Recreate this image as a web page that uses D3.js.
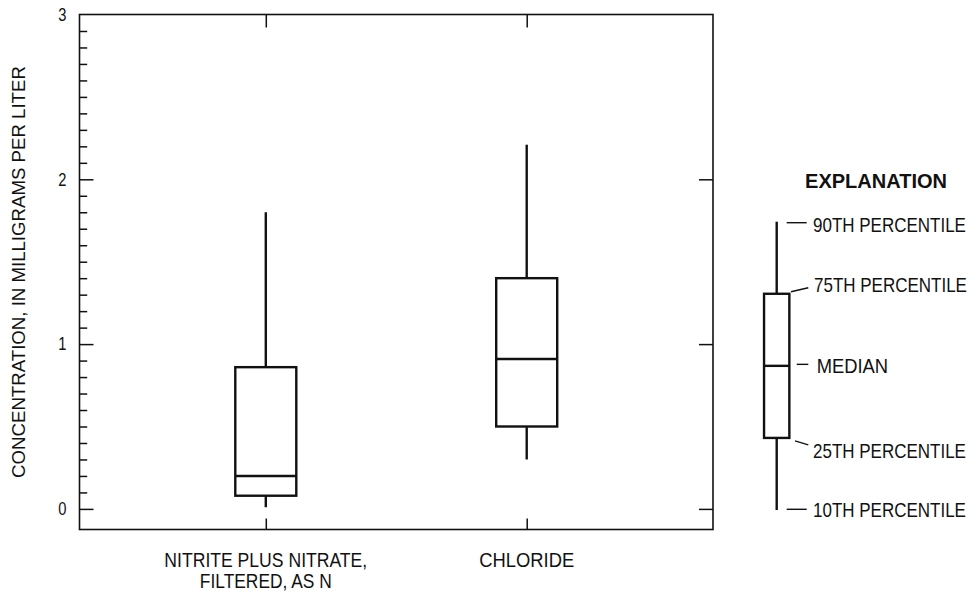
<!DOCTYPE html>
<html><head><meta charset="utf-8">
<script src="https://cdn.jsdelivr.net/npm/d3@7"></script>
<style>
body{margin:0;background:#fff;}
svg{display:block;}
text{font-family:"Liberation Sans",Arial,sans-serif;fill:#111;}
</style></head><body><svg id="c" width="971" height="594"></svg>
<script>
// ---- data ----
const categories = ["NITRITE PLUS NITRATE, FILTERED, AS N", "CHLORIDE"];
const categoryLabelLines = [["NITRITE PLUS NITRATE,", "FILTERED, AS N"], ["CHLORIDE"]];
const p10 = [0.01, 0.30];
const p25 = [0.08, 0.50];
const p50 = [0.20, 0.91];
const p75 = [0.86, 1.40];
const p90 = [1.80, 2.21];
const yMajorTicks = [0, 1, 2, 3];
const yTickLabels = ["0", "1", "2", "3"];
const yTitle = "CONCENTRATION, IN MILLIGRAMS PER LITER";
const legendTitle = "EXPLANATION";
const legendKeys = ["p10", "p25", "p50", "p75", "p90"];
const legendLabels = ["10TH PERCENTILE", "25TH PERCENTILE", "MEDIAN", "75TH PERCENTILE", "90TH PERCENTILE"];
const legendValues = [0, 0.25, 0.5, 0.75, 1];

// ---- layout ----
const L = 79.5, R = 713, T = 14.5, B = 529.5;
const svg = d3.select("#c");
const y = d3.scaleLinear().domain([-0.125, 3]).range([B, T]);
const x = d3.scalePoint().domain(categories).range([L, R]).padding(0.714);
const ink = "#111";
const narrow = 0.81; // condensed look

// condensed text: horizontal scale so that the drawn width is the wanted one
function ctext(px, py, str, fs, anchor, width, weight, rot) {
  const t = svg.append("text").attr("text-anchor", anchor).attr("font-size", fs)
    .attr("font-weight", weight || "normal").text(str);
  const n = t.node().getComputedTextLength();
  const k = width ? width / n : narrow;
  t.attr("transform", `translate(${px},${py})${rot ? " rotate(" + rot + ")" : ""} scale(${k},1)`);
  return t;
}

// frame
svg.append("rect").attr("x", L).attr("y", T).attr("width", R - L).attr("height", B - T)
  .attr("fill", "none").attr("stroke", ink).attr("stroke-width", 1.6);

function clean(g) { g.select(".domain").remove(); g.selectAll(".tick line").attr("stroke", ink).attr("stroke-width", 1.5); }

const minor = d3.range(1, 30).filter(i => i % 10 !== 0).map(i => i / 10);
svg.append("g").attr("transform", `translate(${L},0)`)
  .call(d3.axisRight(y).tickValues(minor).tickSize(7.7).tickFormat("")).call(clean);
svg.append("g").attr("transform", `translate(${L},0)`)
  .call(d3.axisRight(y).tickValues(yMajorTicks.slice(0, 3)).tickSize(14).tickFormat("")).call(clean);
const yl = svg.append("g").attr("transform", `translate(${L},0)`)
  .call(d3.axisLeft(y).tickValues(yMajorTicks).tickSize(0).tickPadding(13).tickFormat((d, i) => yTickLabels[i]));
yl.select(".domain").remove();
yl.selectAll("text").attr("font-size", 18).attr("fill", ink).attr("font-family", null)
  .attr("textLength", 8.2).attr("lengthAdjust", "spacingAndGlyphs");
svg.append("g").attr("transform", `translate(${R},0)`)
  .call(d3.axisLeft(y).tickValues(yMajorTicks.slice(0, 3)).tickSize(14).tickFormat("")).call(clean);
svg.append("g").attr("transform", `translate(0,${T})`)
  .call(d3.axisBottom(x).tickSize(13).tickFormat("")).call(clean);
svg.append("g").attr("transform", `translate(0,${B})`)
  .call(d3.axisTop(x).tickSize(11).tickFormat("")).call(clean);

// category labels
const catLineWidths = [[203, 132], [95]];
categories.forEach((c, i) => {
  categoryLabelLines[i].forEach((ln, j) => ctext(x(c), 566.5 + j * 21.5, ln, 21, "middle", catLineWidths[i][j]));
});

// y title
ctext(25, 272, yTitle, 18.5, "middle", 412, null, -90);

// boxes
const bw = 61, sw = 2.4;
const data = categories.map((c, i) => ({ c, p10: p10[i], p25: p25[i], p50: p50[i], p75: p75[i], p90: p90[i] }));
const bg = svg.append("g").attr("stroke", ink).attr("stroke-width", sw).attr("fill", "none");
data.forEach(d => {
  const cx = x(d.c);
  bg.append("line").attr("x1", cx).attr("x2", cx).attr("y1", y(d.p90)).attr("y2", y(d.p75));
  bg.append("line").attr("x1", cx).attr("x2", cx).attr("y1", y(d.p25)).attr("y2", y(d.p10));
  bg.append("rect").attr("x", cx - bw / 2).attr("width", bw).attr("y", y(d.p75)).attr("height", y(d.p25) - y(d.p75)).attr("fill", "#fff");
  bg.append("line").attr("x1", cx - bw / 2).attr("x2", cx + bw / 2).attr("y1", y(d.p50)).attr("y2", y(d.p50));
});

// legend
const ly = d3.scaleLinear().domain([0, 1]).range([510, 221.7]);
const lx = 776.7, lbw = 25.3;
ctext(876, 187.5, legendTitle, 20.5, "middle", 142, "bold");
const lg = svg.append("g").attr("stroke", ink).attr("stroke-width", sw).attr("fill", "none");
const lv = {}; legendKeys.forEach((k, i) => lv[k] = legendValues[i]);
lg.append("line").attr("x1", lx).attr("x2", lx).attr("y1", ly(lv.p90)).attr("y2", ly(lv.p75));
lg.append("line").attr("x1", lx).attr("x2", lx).attr("y1", ly(lv.p25)).attr("y2", ly(lv.p10));
lg.append("rect").attr("x", lx - lbw / 2).attr("width", lbw).attr("y", ly(lv.p75)).attr("height", ly(lv.p25) - ly(lv.p75)).attr("fill", "#fff");
lg.append("line").attr("x1", lx - lbw / 2).attr("x2", lx + lbw / 2).attr("y1", ly(lv.p50)).attr("y2", ly(lv.p50));

// leader geometry per key: [x1, dy1, x2, dy2, textX, textCenterDy, textWidth]
const leaders = {
  p90: [786.7, 1, 806.7, 1, 813, 2.5, 153],
  p75: [791, -2, 808.3, -6, 814, -9.3, 153],
  p50: [796.7, -1.5, 808.3, -1.5, 816.7, -0.3, 71.5],
  p25: [795, 3, 808.3, 7, 813, 12.6, 153],
  p10: [786.7, -0.7, 806.7, -0.7, 813, -1, 153]
};
const ll = svg.append("g");
legendKeys.forEach((k, i) => {
  const g = leaders[k], vy = ly(legendValues[i]);
  ll.append("line").attr("x1", g[0]).attr("y1", vy + g[1]).attr("x2", g[2]).attr("y2", vy + g[3])
    .attr("stroke", ink).attr("stroke-width", 1.4);
  ctext(g[4], vy + g[5] + 7.5, legendLabels[i], 21, "start", g[6]);
});
</script></body></html>
